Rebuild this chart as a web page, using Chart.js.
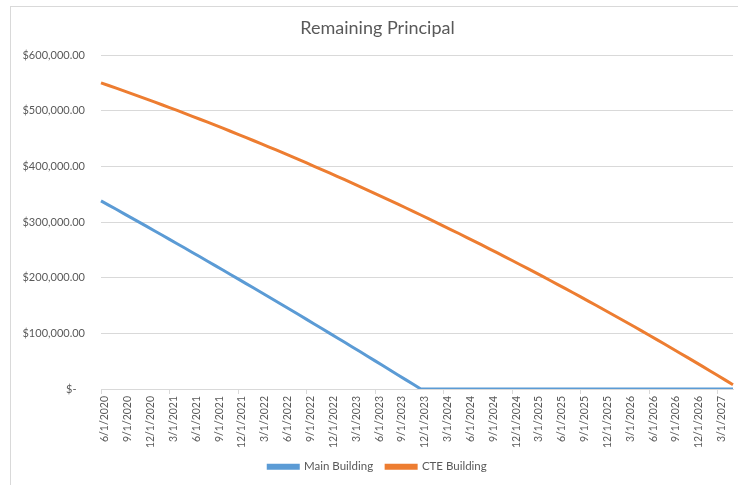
<!DOCTYPE html>
<html>
<head>
<meta charset="utf-8">
<script src="https://cdn.jsdelivr.net/npm/chart.js@4.4.1/dist/chart.umd.min.js"></script>
<title>Remaining Principal</title>
<style>
    body { margin: 0; background: #fff; }
    #wrap { position: relative; width: 748px; height: 485px; }
    #frame { position: absolute; left: 10px; top: 6px; width: 727px; height: 500px;
             border-left: 1px solid #d9d9d9; border-top: 1px solid #d9d9d9; pointer-events: none; }
</style>
</head>
<body>
<div id="wrap">
    <canvas id="c1"></canvas>
    <div id="frame"></div>
</div>
<script>
    "use strict";

    // monthly payment dates
    const months = [
        "6/1/2020", "7/1/2020", "8/1/2020", "9/1/2020", "10/1/2020", "11/1/2020", "12/1/2020",
        "1/1/2021", "2/1/2021", "3/1/2021", "4/1/2021", "5/1/2021", "6/1/2021", "7/1/2021", "8/1/2021", "9/1/2021", "10/1/2021", "11/1/2021", "12/1/2021",
        "1/1/2022", "2/1/2022", "3/1/2022", "4/1/2022", "5/1/2022", "6/1/2022", "7/1/2022", "8/1/2022", "9/1/2022", "10/1/2022", "11/1/2022", "12/1/2022",
        "1/1/2023", "2/1/2023", "3/1/2023", "4/1/2023", "5/1/2023", "6/1/2023", "7/1/2023", "8/1/2023", "9/1/2023", "10/1/2023", "11/1/2023", "12/1/2023",
        "1/1/2024", "2/1/2024", "3/1/2024", "4/1/2024", "5/1/2024", "6/1/2024", "7/1/2024", "8/1/2024", "9/1/2024", "10/1/2024", "11/1/2024", "12/1/2024",
        "1/1/2025", "2/1/2025", "3/1/2025", "4/1/2025", "5/1/2025", "6/1/2025", "7/1/2025", "8/1/2025", "9/1/2025", "10/1/2025", "11/1/2025", "12/1/2025",
        "1/1/2026", "2/1/2026", "3/1/2026", "4/1/2026", "5/1/2026", "6/1/2026", "7/1/2026", "8/1/2026", "9/1/2026", "10/1/2026", "11/1/2026", "12/1/2026",
        "1/1/2027", "2/1/2027", "3/1/2027", "4/1/2027", "5/1/2027"
    ];

    const mainBuilding = [
        338000, 330400, 322800, 315100, 307500, 299800, 292100, 284300, 276600, 268800,
        261000, 253200, 245300, 237500, 229600, 221700, 213800, 205800, 197800, 189800,
        181800, 173800, 165700, 157600, 149500, 141400, 133300, 125100, 116900, 108700,
        100400, 92200, 83900, 75600, 67300, 58900, 50500, 42100, 33700, 25300,
        16800, 8400, 0, 0, 0, 0, 0, 0, 0, 0,
        0, 0, 0, 0, 0, 0, 0, 0, 0, 0,
        0, 0, 0, 0, 0, 0, 0, 0, 0, 0,
        0, 0, 0, 0, 0, 0, 0, 0, 0, 0,
        0, 0, 0, 0
    ];

    const cteBuilding = [
        550000, 545200, 540400, 535600, 530700, 525700, 520700, 515700, 510600, 505500,
        500400, 495100, 489900, 484600, 479300, 473900, 468500, 463000, 457500, 452000,
        446400, 440800, 435100, 429400, 423600, 417800, 412000, 406100, 400100, 394200,
        388200, 382100, 376000, 369800, 363600, 357400, 351100, 344800, 338500, 332000,
        325600, 319100, 312600, 306000, 299400, 292700, 286000, 279300, 272500, 265600,
        258800, 251800, 244900, 237900, 230800, 223700, 216600, 209400, 202200, 194900,
        187600, 180200, 172900, 165400, 157900, 150400, 142800, 135200, 127600, 119900,
        112200, 104400, 96500, 88700, 80800, 72800, 64800, 56800, 48700, 40600,
        32400, 24200, 15900, 7600
    ];

    const yTicks = [0, 100000, 200000, 300000, 400000, 500000, 600000];

    const grey = "#595959";
    const gridGrey = "#d9d9d9";

    function money(v)
    {
        if (v == 0)
        {
            return "$-   ";
        }
        return "$" + v.toLocaleString("en-US", { minimumFractionDigits: 2, maximumFractionDigits: 2 });
    }

    let c1 = document.querySelector("#c1");

    let params =
    {
        type: "line",
        data: {
            labels: months,
            datasets: [
                {
                    label: "Main Building",
                    data: mainBuilding,
                    borderColor: "#5B9BD5",
                    backgroundColor: "#5B9BD5",
                    borderWidth: 3,
                    pointRadius: 0,
                    tension: 0,
                    order: 1
                },
                {
                    label: "CTE Building",
                    data: cteBuilding,
                    borderColor: "#ED7D31",
                    backgroundColor: "#ED7D31",
                    borderWidth: 3,
                    pointRadius: 0,
                    tension: 0,
                    order: 0
                }]
        },
        options: {
            responsive: true,
            maintainAspectRatio: false,
            animation: false,
            layout: { padding: { left: 22, right: 15, top: 0, bottom: 2.5 } },
            plugins: {
                title: {
                    display: true,
                    text: "Remaining Principal",
                    color: grey,
                    font: { family: "Lato", size: 18, weight: "normal" },
                    padding: { top: 17, bottom: 16.4 }
                },
                legend: {
                    position: "bottom",
                    labels: {
                        color: grey,
                        font: { family: "Lato", size: 11.5 },
                        boxWidth: 30,
                        boxHeight: 3,
                        padding: 13,
                        sort: (a, b) => a.datasetIndex - b.datasetIndex
                    }
                },
                tooltip: { enabled: false }
            },
            scales: {
                x: {
                    offset: false,
                    ticks: {
                        autoSkip: false,
                        maxRotation: 90,
                        minRotation: 90,
                        labelOffset: 4,
                        padding: 2,
                        color: grey,
                        font: { family: "Lato", size: 10.5 },
                        callback: function (val, i) { return i % 3 == 0 ? months[i] : null; }
                    },
                    grid: {
                        drawOnChartArea: false,
                        drawTicks: true,
                        tickLength: 5,
                        color: (ctx) => ctx.index % 3 == 0 ? gridGrey : "rgba(0,0,0,0)"
                    },
                    border: { display: true, color: gridGrey, width: 1 },
                    afterFit: (s) => { s.height = 59; }
                },
                y: {
                    min: 0,
                    max: 600000,
                    afterBuildTicks: (s) => { s.ticks = yTicks.map(v => ({ value: v })); },
                    ticks: {
                        padding: 16,
                        color: grey,
                        font: { family: "Lato", size: 11 },
                        callback: (v) => money(v)
                    },
                    grid: { color: gridGrey, lineWidth: 1, drawTicks: false },
                    border: { display: false },
                    afterFit: (s) => { s.width = 79; }
                }
            }
        }
    };

    let chart1 = new Chart(c1, params);
</script>
</body>
</html>
